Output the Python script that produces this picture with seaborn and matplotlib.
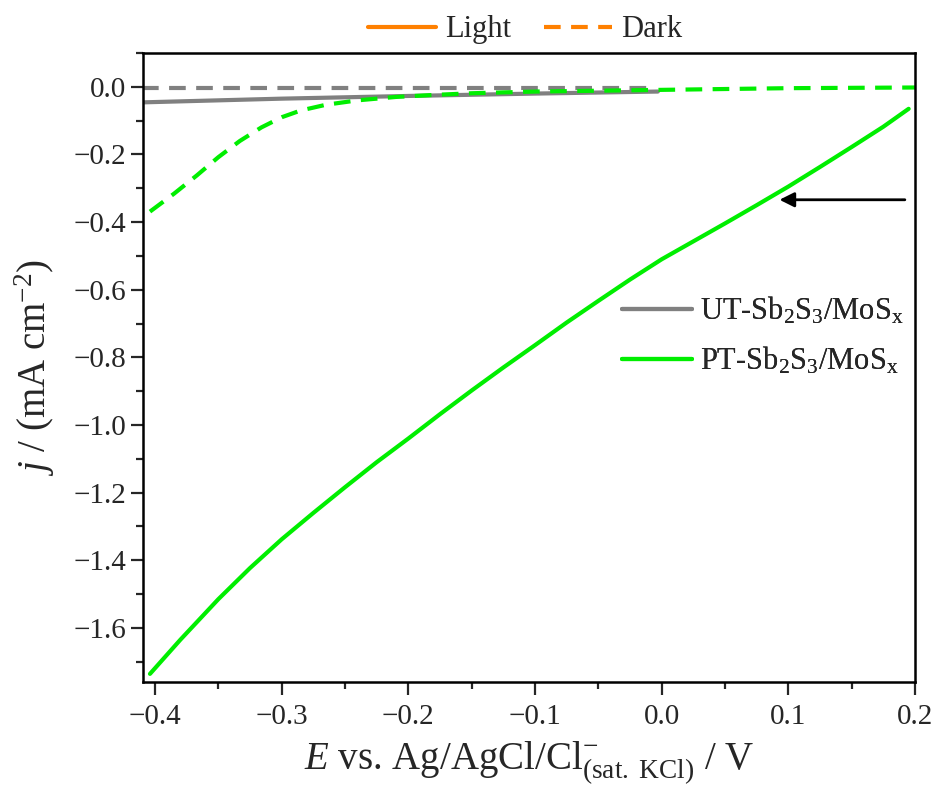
import numpy as np
import pandas as pd
import matplotlib
matplotlib.use("Agg")
import matplotlib.pyplot as plt
from matplotlib.lines import Line2D
from matplotlib.ticker import MultipleLocator
import seaborn as sns

# PT-Sb2S3/MoSx, light
pt_light_E = [-0.404, -0.38, -0.35, -0.325, -0.30, -0.275, -0.25, -0.225, -0.20, -0.175, -0.15,
              -0.125, -0.10, -0.075, -0.05, -0.025, 0.0, 0.025, 0.05, 0.075, 0.10, 0.125, 0.15,
              0.175, 0.195]
pt_light_j = [-1.736, -1.635, -1.515, -1.423, -1.338, -1.260, -1.184, -1.11, -1.040, -0.968, -0.898,
              -0.83, -0.764, -0.697, -0.633, -0.57, -0.51, -0.457, -0.404, -0.35, -0.295, -0.237,
              -0.178, -0.118, -0.065]

# PT-Sb2S3/MoSx, dark
pt_dark_E = [-0.404, -0.385, -0.367, -0.35, -0.333, -0.316, -0.30, -0.285, -0.265, -0.24,
             -0.21, -0.18, -0.15, -0.10, 0.0, 0.10, 0.20]
pt_dark_j = [-0.369, -0.316, -0.262, -0.208, -0.160, -0.120, -0.090, -0.070, -0.053, -0.040,
             -0.030, -0.024, -0.019, -0.014, -0.009, -0.004, -0.002]

# UT-Sb2S3/MoSx, light and dark
ut_light_E = [-0.41, -0.30, -0.20, -0.10, -0.003]
ut_light_j = [-0.046, -0.035, -0.027, -0.020, -0.014]
ut_dark_E = [-0.41, -0.30, -0.20, -0.10, -0.005]
ut_dark_j = [-0.004, -0.004, -0.004, -0.004, -0.004]

samples = ["UT-Sb$_2$S$_3$/MoS$_\\mathregular{x}$", "PT-Sb$_2$S$_3$/MoS$_\\mathregular{x}$"]
conditions = ["Light", "Dark"]

arrow_from = (0.192, -0.334)
arrow_to = (0.093, -0.334)

GRAY = "#808080"
GREEN = "#00EE00"
ORANGE = "#FF8000"

frames = []
for E, j, s, c in [(ut_dark_E, ut_dark_j, samples[0], "Dark"),
                   (ut_light_E, ut_light_j, samples[0], "Light"),
                   (pt_dark_E, pt_dark_j, samples[1], "Dark"),
                   (pt_light_E, pt_light_j, samples[1], "Light")]:
    frames.append(pd.DataFrame({"E": E, "j": j, "sample": s, "condition": c}))
df = pd.concat(frames, ignore_index=True)

sns.set_style("ticks")
plt.rcParams["font.family"] = ["Liberation Serif", "DejaVu Serif"]
plt.rcParams["mathtext.fontset"] = "custom"
plt.rcParams["mathtext.rm"] = "Liberation Serif"
plt.rcParams["mathtext.it"] = "Liberation Serif:italic"
plt.rcParams["mathtext.bf"] = "Liberation Serif:bold"

fig = plt.figure(figsize=(9.41, 7.9), dpi=100)
ax = fig.add_axes([143 / 941, 1 - 682 / 790, 772 / 941, 629 / 790])

lw = 3.0
dash = (4, 2.5)
sns.lineplot(data=df, x="E", y="j", hue="sample", style="condition",
             palette={samples[0]: GRAY, samples[1]: GREEN},
             dashes={"Light": "", "Dark": dash},
             estimator=None, sort=False, legend=False, lw=lw, ax=ax)

ax.set_xlim(-0.4095, 0.2)
ax.set_ylim(-1.76, 0.1)
ax.xaxis.set_major_locator(MultipleLocator(0.1))
ax.xaxis.set_minor_locator(MultipleLocator(0.05))
ax.yaxis.set_major_locator(MultipleLocator(0.2))
ax.yaxis.set_minor_locator(MultipleLocator(0.1))
ax.tick_params(which="both", direction="out", width=1.6, top=False, right=False, labelsize=21)
ax.tick_params(which="major", length=9)
ax.tick_params(which="minor", length=5)
ax.tick_params(axis="x", which="major", pad=7)
ax.tick_params(axis="y", which="major", pad=3)
for sp in ax.spines.values():
    sp.set_linewidth(1.8)
    sp.set_color("black")

ax.set_xlabel(r"$E$ vs. Ag/AgCl/Cl$\mathregular{^{-}_{(sat.\ KCl)}}$ / V", fontsize=28, labelpad=6)
ax.set_ylabel(r"$j$ / (mA cm$\mathregular{^{-2}}$)", fontsize=28, labelpad=12)

ax.annotate("", xy=arrow_to, xytext=arrow_from,
            arrowprops=dict(arrowstyle="-|>", color="black", lw=2, mutation_scale=22,
                            shrinkA=0, shrinkB=0))

sample_handles = [Line2D([], [], color=GRAY, lw=lw), Line2D([], [], color=GREEN, lw=lw)]
leg1 = ax.legend(sample_handles, samples, loc="upper left", bbox_to_anchor=(0.62, 0.615),
                 frameon=False, fontsize=22, handlelength=2.3, handletextpad=0.25,
                 labelspacing=0.6, borderpad=0, borderaxespad=0)
ax.add_artist(leg1)

cond_handles = [Line2D([], [], color=ORANGE, lw=lw),
                Line2D([], [], color=ORANGE, lw=lw, dashes=dash)]
fig.legend(cond_handles, conditions, loc="upper center", bbox_to_anchor=(0.558, 1.0),
           ncol=2, frameon=False, fontsize=22, handlelength=2.2, handletextpad=0.3,
           columnspacing=1.1, borderpad=0.0)

fig.savefig("out.png", dpi=100)
